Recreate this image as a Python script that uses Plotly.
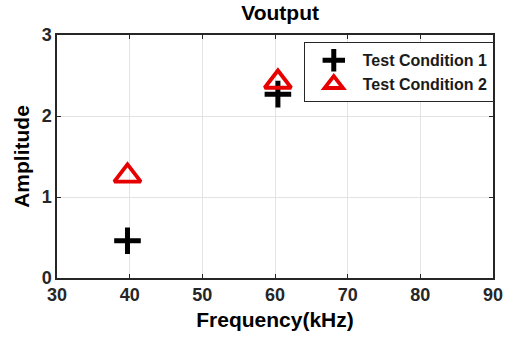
import plotly.graph_objects as go

freq1 = [39.7, 60.4]
amp1 = [0.46, 2.27]
freq2 = [39.7, 60.4]
amp2 = [1.26, 2.42]
names = ["Test Condition 1", "Test Condition 2"]
xticks = [30, 40, 50, 60, 70, 80, 90]
yticks = [0, 1, 2, 3]

fig = go.Figure()
fig.add_trace(go.Scatter(x=freq1, y=amp1, mode="markers", name=f"<b>{names[0]}</b>",
                         marker=dict(symbol="cross-thin", size=19, color="black",
                                     line=dict(width=5, color="black"))))
fig.add_trace(go.Scatter(x=freq2, y=amp2, mode="markers", name=f"<b>{names[1]}</b>",
                         marker=dict(symbol="triangle-up-open", size=23, color="#e60000",
                                     line=dict(width=3.8, color="#e60000"))))

font_fam = "Liberation Sans, Arial, sans-serif"
fig.update_layout(
    width=514, height=339,
    margin=dict(l=57, r=11, t=35, b=61),
    paper_bgcolor="white", plot_bgcolor="white",
    title=dict(text="<b>Voutput</b>", x=0.545, xanchor="center", y=0.985, yanchor="top",
               font=dict(family=font_fam, size=21, color="black")),
    font=dict(family=font_fam),
    legend=dict(x=0.566, y=0.97, xanchor="left", yanchor="top",
                bgcolor="white", bordercolor="#262626", borderwidth=1,
                font=dict(family=font_fam, size=16, color="#1a1a1a"),
                itemsizing="trace", tracegroupgap=0, itemwidth=48),
    xaxis=dict(range=[30, 90], tickvals=xticks, ticktext=[f"<b>{v}</b>" for v in xticks],
               showgrid=True, gridcolor="#e3e3e3", gridwidth=1,
               showline=True, linecolor="#262626", linewidth=1.5, mirror="ticks",
               ticks="inside", ticklen=4, tickcolor="#262626",
               tickfont=dict(family=font_fam, size=18, color="#262626"),
               title=dict(text="<b>Frequency(kHz)</b>", standoff=8,
                          font=dict(family=font_fam, size=21, color="black")),
               zeroline=False),
    yaxis=dict(range=[0, 3], tickvals=yticks, ticktext=[f"<b>{v}</b>" for v in yticks],
               showgrid=True, gridcolor="#e3e3e3", gridwidth=1,
               showline=True, linecolor="#262626", linewidth=1.5, mirror="ticks",
               ticks="inside", ticklen=4, tickcolor="#262626",
               tickfont=dict(family=font_fam, size=18, color="#262626"),
               title=dict(text="<b>Amplitude</b>", standoff=6,
                          font=dict(family=font_fam, size=21, color="black")),
               zeroline=False),
)
fig.write_html("out.html")
